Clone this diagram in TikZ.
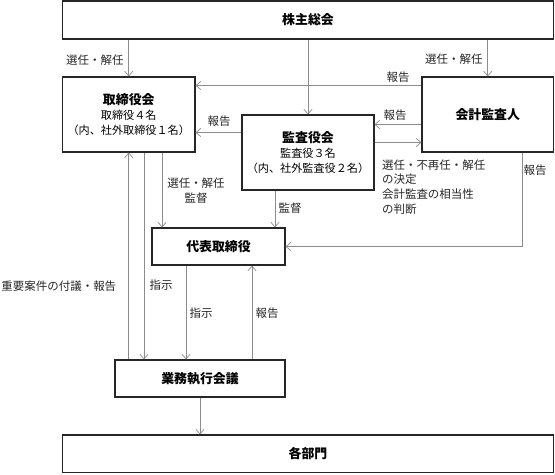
\documentclass[tikz,border=0pt]{standalone}
\usepackage{fontspec}
\setmainfont{Noto Sans CJK JP}
\usetikzlibrary{arrows.meta}
\usetikzlibrary{positioning}

\newcommand{\ttl}{\fontsize{11}{14}\selectfont\bfseries}
\tikzset{
  box/.style={draw=black!85,line width=0.9pt,rectangle,align=center,inner sep=0pt,
    font=\fontsize{9.5}{13}\selectfont},
  arr/.style={draw=black!45,line width=0.6pt,-{Straight Barb[length=4pt,width=7pt]}},
  lbl/.style={font=\fontsize{9.8}{12.6}\selectfont,text=black!85,inner sep=1pt}
}

\begin{document}
\begin{tikzpicture}
\useasboundingbox (0,0) rectangle (16.65,14.22);

% boxes
\node[box,minimum width=14.73cm,minimum height=1.14cm] (kabu) at (9.24,13.62) {\ttl 株主総会};
\node[box,minimum width=3.975cm,minimum height=2.25cm] (torishimari) at (3.8625,10.785) {{\ttl 取締役会}\\取締役４名\\（内、社外取締役１名）};
\node[box,minimum width=3.96cm,minimum height=2.25cm] (kansa) at (9.24,9.645) {{\ttl 監査役会}\\監査役３名\\（内、社外監査役２名）};
\node[box,minimum width=3.945cm,minimum height=2.25cm] (kaikei) at (14.6325,10.785) {\ttl 会計監査人};
\node[box,minimum width=3.99cm,minimum height=1.11cm] (daihyo) at (6.555,6.825) {\ttl 代表取締役};
\node[box,minimum width=5.1cm,minimum height=1.11cm] (gyomu) at (6.0,2.865) {\ttl 業務執行会議};
\node[box,minimum width=14.73cm,minimum height=1.125cm] (bumon) at (9.24,0.6075) {\ttl 各部門};

% from the shareholders
\draw[arr] (kabu.south -| torishimari.north) -- (torishimari.north);
\draw[arr] (kabu.south -| kansa.north) -- (kansa.north);
\draw[arr] (kabu.south -| kaikei.north) -- (kaikei.north);
\node[lbl,anchor=east] (sen1) at (3.75,12.42) {選任・解任};
\node[lbl,anchor=east] (sen2) at (14.52,12.45) {選任・解任};

% reports between the upper boxes
\draw[arr] ([yshift=-0.27cm]kaikei.north west) -- ([yshift=-0.27cm]kaikei.north west -| torishimari.east);
\draw[arr] ([yshift=-0.3cm]kansa.north east -| kaikei.west) -- ([yshift=-0.3cm]kansa.north east);
\draw[arr] ([yshift=-0.84cm]kansa.north east) -- ([yshift=-0.84cm]kansa.north east -| kaikei.west);
\draw[arr] ([yshift=-0.54cm]kansa.north west) -- ([yshift=-0.54cm]kansa.north west -| torishimari.east);
\node[lbl] (hou1) at (11.94,11.895) {報告};
\node[lbl] (hou2) at (11.85,10.77) {報告};
\node[lbl] (hou3) at (6.57,10.59) {報告};
\node[lbl,anchor=west,align=left] (kettei) at (11.42,8.61) {選任・不再任・解任\\の決定\\会計監査の相当性\\の判断};

% to the representative director
\draw[arr] ([xshift=1cm]torishimari.south) -- ([xshift=1cm]torishimari.south |- daihyo.north);
\draw[arr] ([xshift=-0.99cm]kansa.south) -- ([xshift=-0.99cm]kansa.south |- daihyo.north);
\draw[arr] ([xshift=1.03cm]kaikei.south) |- (daihyo.east);
\node[lbl,align=center] (kantoku1) at (5.88,8.505) {選任・解任\\監督};
\node[lbl] (kantoku2) at (8.7,7.98) {監督};
\node[lbl] (hou4) at (16.05,9.12) {報告};

% executive committee
\draw[arr] (gyomu.north -| torishimari.south) -- (torishimari.south);
\draw[arr] ([xshift=0.4575cm]torishimari.south) -- ([xshift=0.4575cm]torishimari.south |- gyomu.north);
\draw[arr] ([xshift=-0.975cm]daihyo.south) -- ([xshift=-0.975cm]daihyo.south |- gyomu.north);
\draw[arr] ([xshift=1.56cm]gyomu.north) -- ([xshift=1.56cm]gyomu.north |- daihyo.south);
\draw[arr] (gyomu.south) -- (gyomu.south |- bumon.north);
\node[lbl,anchor=west] (fugi) at (0,5.64) {重要案件の付議・報告};
\node[lbl] (shiji1) at (4.83,5.67) {指示};
\node[lbl] (shiji2) at (6.03,4.83) {指示};
\node[lbl] (hou5) at (8.01,4.83) {報告};

\end{tikzpicture}
\end{document}
